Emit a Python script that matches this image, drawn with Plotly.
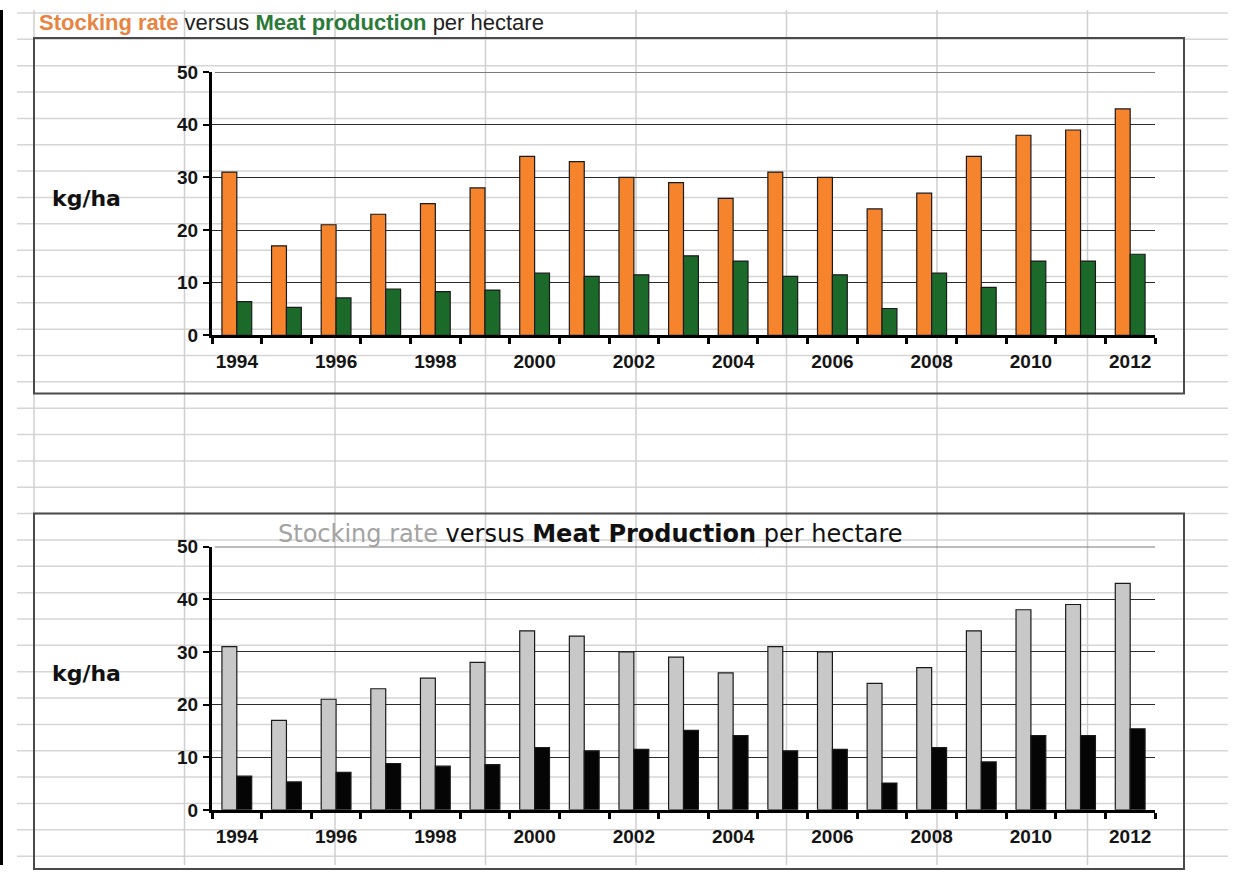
import plotly.graph_objects as go

# Annual figures, 1994-2012 (kg per hectare)
years = [1994, 1995, 1996, 1997, 1998, 1999, 2000, 2001, 2002, 2003,
         2004, 2005, 2006, 2007, 2008, 2009, 2010, 2011, 2012]
stocking_rate = [31, 17, 21, 23, 25, 28, 34, 33, 30, 29,
                 26, 31, 30, 24, 27, 34, 38, 39, 43]
meat_production = [6.4, 5.3, 7.1, 8.8, 8.3, 8.6, 11.8, 11.2, 11.5, 15.1,
                   14.1, 11.2, 11.5, 5.1, 11.8, 9.1, 14.1, 14.1, 15.4]
y_ticks = [0, 10, 20, 30, 40, 50]
x_ticks = years[::2]

W, H = 1243, 876


def px(x):
    return x / W


def py(y):
    # page pixel row -> paper fraction (page is drawn 10px down, 97.5% tall)
    return 1 - ((y - 10) / 0.975) / H


fig = go.Figure()

# colour version
fig.add_trace(go.Bar(x=years, y=stocking_rate, name="Stocking rate",
                     marker=dict(color="#F5842C", line=dict(color="#1a1a1a", width=1.2)),
                     xaxis="x", yaxis="y"))
fig.add_trace(go.Bar(x=years, y=meat_production, name="Meat production",
                     marker=dict(color="#1C6A2A", line=dict(color="#1a1a1a", width=1.2)),
                     xaxis="x", yaxis="y"))
# greyscale version
fig.add_trace(go.Bar(x=years, y=stocking_rate, name="Stocking rate",
                     marker=dict(color="#C8C8C8", line=dict(color="#1a1a1a", width=1.2)),
                     xaxis="x2", yaxis="y2"))
fig.add_trace(go.Bar(x=years, y=meat_production, name="Meat Production",
                     marker=dict(color="#050505", line=dict(color="#1a1a1a", width=1.2)),
                     xaxis="x2", yaxis="y2"))

tick_font = dict(family="Arial, Liberation Sans, sans-serif", size=19, color="#151515", weight="bold")


def x_axis(anchor):
    return dict(
        domain=[px(212), px(1155)], anchor=anchor,
        range=[years[0] - 0.5, years[-1] + 0.5],
        tickvals=x_ticks, ticktext=[str(v) for v in x_ticks],
        ticks="outside", ticklen=6, tickcolor="rgba(0,0,0,0)",
        ticklabelstandoff=1,
        minor=dict(ticks="outside", tick0=years[0] - 0.5, dtick=1, ticklen=6,
                   tickwidth=2.5, tickcolor="#000", showgrid=False),
        showline=True, linecolor="#000", linewidth=3,
        showgrid=False, zeroline=False, tickfont=tick_font, fixedrange=True,
    )


def y_axis(anchor, y0, y50):
    return dict(
        domain=[py(y0), py(y50)], anchor=anchor,
        range=[0, 50], tickvals=y_ticks,
        ticks="outside", ticklen=6, tickwidth=2, tickcolor="#000",
        ticklabelstandoff=1,
        showline=True, linecolor="#000", linewidth=3,
        showgrid=True, gridcolor="#2b2b2b", gridwidth=1.4,
        zeroline=False, tickfont=tick_font, fixedrange=True,
    )


# spreadsheet cell grid behind the charts
shapes = []
y = 13.0
while y < H:
    shapes.append(dict(type="line", xref="paper", yref="paper",
                       x0=px(17), x1=px(1228), y0=py(y), y1=py(y),
                       line=dict(color="#d6d6d6", width=1.5), layer="below"))
    y += 26.32
for xv in [34, 184.5, 335, 485.5, 636, 786.5, 937, 1087.5]:
    shapes.append(dict(type="line", xref="paper", yref="paper",
                       x0=px(xv), x1=px(xv), y0=0, y1=1,
                       line=dict(color="#cfcfcf", width=1.5), layer="below"))

# chart frames
for top, bottom in [(38, 393), (513, 868)]:
    shapes.append(dict(type="rect", xref="paper", yref="paper",
                       x0=px(34), x1=px(1184), y0=py(bottom), y1=py(top),
                       line=dict(color="#4a4a4a", width=2), fillcolor="rgba(0,0,0,0)",
                       layer="below"))

# softer top gridline at the axis maximum
for xa, ya in [("x", "y"), ("x2", "y2")]:
    shapes.append(dict(type="line", xref=f"{xa} domain", yref=ya,
                       x0=0.003, x1=1, y0=y_ticks[-1], y1=y_ticks[-1],
                       line=dict(color="#7a7a7a", width=2)))

# outer black edge on the left
shapes.append(dict(type="rect", xref="paper", yref="paper", x0=0, x1=px(3), y0=0, y1=1,
                   line=dict(width=0), fillcolor="#000"))

annotations = [
    dict(xref="paper", yref="paper", x=px(37), y=py(22), xanchor="left", yanchor="middle",
         showarrow=False,
         text=("<span style='color:#E8843F'><b>Stocking rate</b></span>"
               "<span style='color:#222'> versus </span>"
               "<span style='color:#2A7A38'><b>Meat production</b></span>"
               "<span style='color:#222'> per hectare</span>"),
         font=dict(family="Arial, Liberation Sans, sans-serif", size=22)),
    dict(xref="paper", yref="paper", x=px(590), y=py(533), xanchor="center", yanchor="middle",
         showarrow=False,
         text=("<span style='color:#A3A3A3'>Stocking rate</span>"
               "<span style='color:#111'> versus </span>"
               "<span style='color:#111'><b>Meat Production</b></span>"
               "<span style='color:#111'> per hectare</span>"),
         font=dict(family="DejaVu Sans, sans-serif", size=24)),
]
for yc in (198, 673):
    annotations.append(dict(xref="paper", yref="paper", x=px(86), y=py(yc),
                            xanchor="center", yanchor="middle", showarrow=False,
                            text="<b>kg/ha</b>",
                            font=dict(family="DejaVu Sans, sans-serif", size=22, color="#111")))

fig.update_layout(
    width=W, height=H,
    margin=dict(l=0, r=0, t=0, b=0),
    paper_bgcolor="white", plot_bgcolor="rgba(0,0,0,0)",
    barmode="group", bargap=0.4, bargroupgap=0.0,
    showlegend=False,
    xaxis=x_axis("y"), yaxis=y_axis("x", 335, 72),
    xaxis2=x_axis("y2"), yaxis2=y_axis("x2", 809, 546),
    shapes=shapes, annotations=annotations,
)

fig.write_html("out.html")
